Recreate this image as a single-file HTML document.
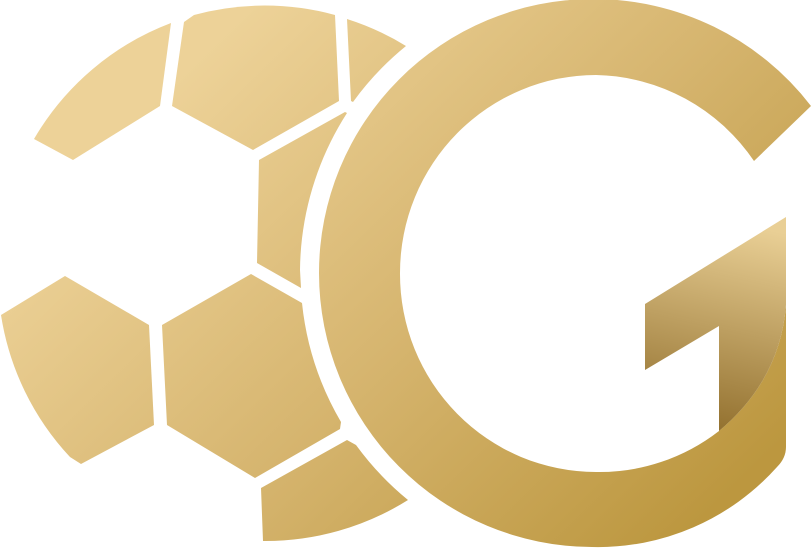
<!DOCTYPE html>
<html lang="en">
<head>
<meta charset="utf-8">
<title>Football G logo</title>
<style>
html,body{margin:0;padding:0;background:#fff;}
body{width:812px;height:548px;overflow:hidden;}
svg{display:block;}
</style>
</head>
<body>
<svg width="812" height="548" viewBox="0 0 812 548" xmlns="http://www.w3.org/2000/svg">
<defs>
<linearGradient id="gold" gradientUnits="userSpaceOnUse" x1="215" y1="40" x2="690" y2="530">
<stop offset="0" stop-color="#edd298"/>
<stop offset="0.5" stop-color="#d6b56f"/>
<stop offset="1" stop-color="#bc973f"/>
</linearGradient>
<linearGradient id="fold" gradientUnits="userSpaceOnUse" x1="745" y1="225" x2="700" y2="430">
<stop offset="0" stop-color="#e9cf95"/>
<stop offset="1" stop-color="#92702e"/>
</linearGradient>
</defs>
<g fill="url(#gold)">
<path d="M34 139A268 268 0 0 1 171 23L160 106L73 160Z"/>
<path d="M184 22L194 15A268 268 0 0 1 335 15L339 101L253 150L172 106Z"/>
<path d="M347 19A268 268 0 0 1 406 46A296 296 0 0 0 353 102L351 101Z"/>
<path d="M259 160L345 112L347 113A296 296 0 0 0 300 270L301 288L257 263Z"/>
<path d="M162 325L251 274L302 303A296 296 0 0 0 341 422L340 429L255 478L167 425Z"/>
<path d="M1 315L65 276L149 325L154 425L81 464L70 457A268 268 0 0 1 1 315Z"/>
<path d="M261 488L347 440L356 445A296 296 0 0 0 408 500A268 268 0 0 1 263 541Z"/>
</g>
<path fill="url(#gold)" d="M811 106A274 274 0 0 0 592 -1A274 274 0 0 0 319 273A274 274 0 0 0 592 547A240 240 0 0 0 777 467Q786 458 786 447L786 305Q780 380 719 431A196 198 0 0 1 596 472A196 198 0 0 1 400 273A196 198 0 0 1 596 75A196 198 0 0 1 754 161Z"/>
<path fill="url(#fold)" d="M645 304L786 217L786 305Q780 380 719 431L719 326L645 370Z"/>
</svg>
</body>
</html>
